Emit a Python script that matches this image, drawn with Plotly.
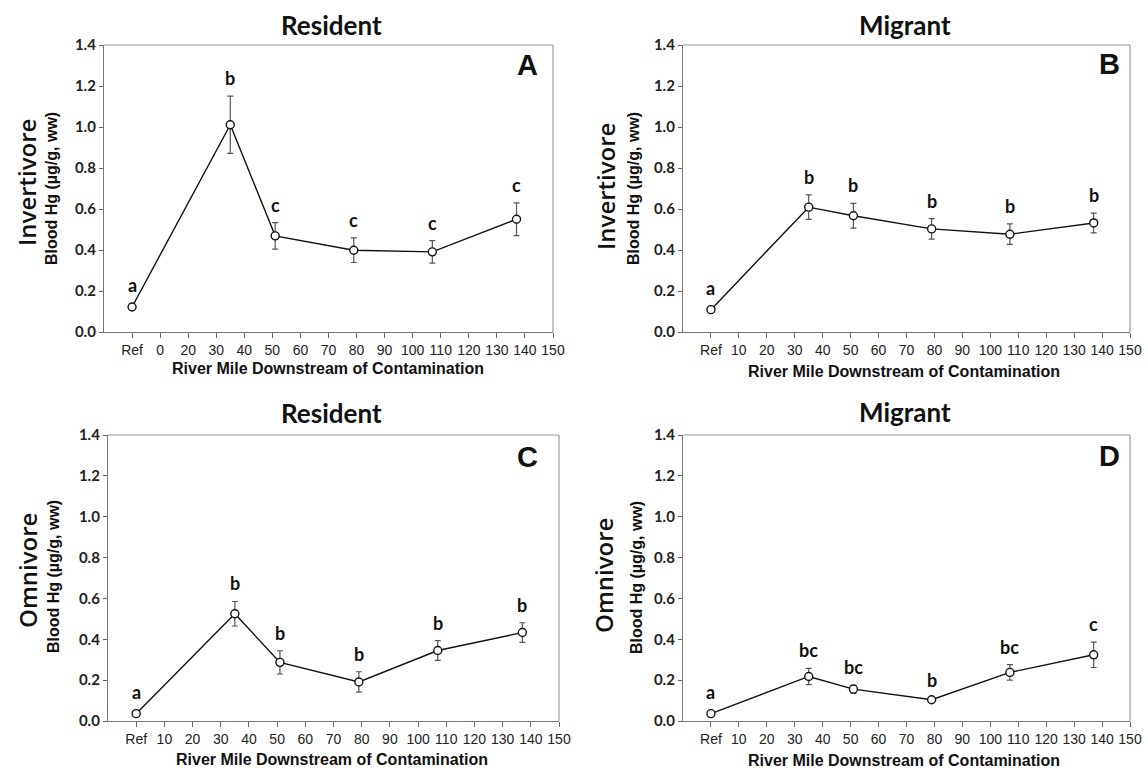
import plotly.graph_objects as go

# ---------------- data ----------------
river_mile = [0, 35, 51, 79, 107, 137]          # 0 = "Ref" site position

a_mean = [0.122, 1.011, 0.469, 0.399, 0.391, 0.550]
a_err  = [0.0, 0.140, 0.065, 0.060, 0.055, 0.080]
a_let  = ["a", "b", "c", "c", "c", "c"]

b_mean = [0.109, 0.609, 0.567, 0.503, 0.477, 0.532]
b_err  = [0.0, 0.060, 0.060, 0.050, 0.050, 0.048]
b_let  = ["a", "b", "b", "b", "b", "b"]

c_mean = [0.036, 0.525, 0.287, 0.191, 0.345, 0.433]
c_err  = [0.0, 0.060, 0.057, 0.050, 0.048, 0.048]
c_let  = ["a", "b", "b", "b", "b", "b"]

d_mean = [0.036, 0.218, 0.156, 0.104, 0.238, 0.324]
d_err  = [0.0, 0.040, 0.020, 0.010, 0.038, 0.062]
d_let  = ["a", "bc", "bc", "b", "bc", "c"]

tick_vals = [0, 10, 20, 30, 40, 50, 60, 70, 80, 90, 100, 110, 120, 130, 140, 150]
tick_text_a = ["Ref", "0"] + [str(v) for v in tick_vals[2:]]
tick_text = ["Ref", "10"] + [str(v) for v in tick_vals[2:]]
y_ticks = [0.0, 0.2, 0.4, 0.6, 0.8, 1.0, 1.2, 1.4]

titles = ["Resident", "Migrant", "Resident", "Migrant"]
panel_letters = ["A", "B", "C", "D"]
diet_labels = ["Invertivore", "Invertivore", "Omnivore", "Omnivore"]
y_title = "Blood Hg (µg/g, ww)"
x_title = "River Mile Downstream of Contamination"

# ---------------- layout geometry ----------------
W, H = 1148, 769
def px(x): return x / W
def py(y): return 1 - y / H

panels = [
    dict(x0=104, x1=553, y0=45, y1=332, mean=a_mean, err=a_err, let=a_let, tt=tick_text_a,
         title=(331, 25), letter=(527, 65), diet=(26, 183), yt=(52, 189), xt=(328, 369)),
    dict(x0=683, x1=1130, y0=45, y1=332, mean=b_mean, err=b_err, let=b_let, tt=tick_text,
         title=(905, 25), letter=(1109, 64), diet=(606, 187), yt=(634, 189), xt=(904, 371)),
    dict(x0=108, x1=559, y0=435, y1=721, mean=c_mean, err=c_err, let=c_let, tt=tick_text,
         title=(331, 413), letter=(527, 457), diet=(27, 571), yt=(53, 577), xt=(332, 759)),
    dict(x0=683, x1=1130, y0=435, y1=721, mean=d_mean, err=d_err, let=d_let, tt=tick_text,
         title=(905, 412), letter=(1109, 456), diet=(603, 576), yt=(636, 578), xt=(904, 760)),
]

fig = go.Figure()
annotations = []
shapes = []
layout = {}

def note(x, y, text, font, angle=0):
    return dict(x=px(x), y=py(y), xref="paper", yref="paper", text=text,
                showarrow=False, xanchor="center", yanchor="middle",
                textangle=angle, font=font)

for i, p in enumerate(panels):
    n = "" if i == 0 else str(i + 1)
    xa, ya = "x" + n, "y" + n
    fig.add_trace(go.Scatter(
        x=river_mile, y=p["mean"], xaxis=xa, yaxis=ya, mode="lines+markers",
        line=dict(color="#111111", width=1.4),
        marker=dict(symbol="circle", size=8, color="white",
                    line=dict(color="#111111", width=1.4)),
        error_y=dict(type="data", array=p["err"], visible=True,
                     color="#555555", thickness=1.2, width=3),
        showlegend=False, hoverinfo="x+y"))

    layout["xaxis" + n] = dict(
        domain=[px(p["x0"]), px(p["x1"])], anchor=ya, range=[-10, 150],
        tickmode="array", tickvals=tick_vals, ticktext=p["tt"], automargin=False,
        ticks="outside", ticklen=5, tickcolor="#666666", showgrid=False, zeroline=False,
        showline=True, linecolor="#777777", linewidth=1.3,
        tickfont=dict(family="Liberation Sans", size=14, color="#222222"))
    layout["yaxis" + n] = dict(
        domain=[py(p["y1"]), py(p["y0"])], anchor=xa, range=[0, 1.4],
        tickmode="array", tickvals=y_ticks, ticktext=[f"{v:.1f}" for v in y_ticks],
        automargin=False,
        ticks="outside", ticklen=4, tickcolor="#666666", showgrid=False, zeroline=False,
        showline=True, linecolor="#777777", linewidth=1.3,
        tickfont=dict(family="Lato", size=15, color="#222222", weight="bold"))

    # top/right frame
    shapes.append(dict(type="line", xref="paper", yref="paper",
                       x0=px(p["x0"]), x1=px(p["x1"]), y0=py(p["y0"]), y1=py(p["y0"]),
                       line=dict(color="#999999", width=1.2)))
    shapes.append(dict(type="line", xref="paper", yref="paper",
                       x0=px(p["x1"]), x1=px(p["x1"]), y0=py(p["y0"]), y1=py(p["y1"]),
                       line=dict(color="#999999", width=1.2)))

    # significance letters
    for xv, m, e, l in zip(river_mile, p["mean"], p["err"], p["let"]):
        annotations.append(dict(x=xv, y=m + e, xref=xa, yref=ya, text=f"<b>{l}</b>",
                                showarrow=False, xanchor="center", yanchor="bottom",
                                yshift=5 if e > 0 else 9,
                                font=dict(family="Lato", size=18, color="#111111")))

    annotations.append(note(*p["title"], "<b>" + titles[i] + "</b>",
                            dict(family="Lato", size=26, color="#111111")))
    annotations.append(note(*p["letter"], "<b>" + panel_letters[i] + "</b>",
                            dict(family="Liberation Sans", size=29, color="#111111")))
    annotations.append(note(*p["diet"], diet_labels[i],
                            dict(family="Open Sans", size=24, color="#111111", weight=600), -90))
    annotations.append(note(*p["yt"], "<b>" + y_title + "</b>",
                            dict(family="Liberation Sans", size=16, color="#111111"), -90))
    annotations.append(note(*p["xt"], "<b>" + x_title + "</b>",
                            dict(family="Liberation Sans", size=16, color="#111111")))

fig.update_layout(
    template="none",
    width=W, height=H, margin=dict(l=0, r=0, t=0, b=0, autoexpand=False),
    paper_bgcolor="white", plot_bgcolor="white",
    annotations=annotations, shapes=shapes, **layout)

fig.write_html("out.html", config={"displayModeBar": False},
               post_script="document.body.style.margin='0';document.body.style.overflow='hidden';")
